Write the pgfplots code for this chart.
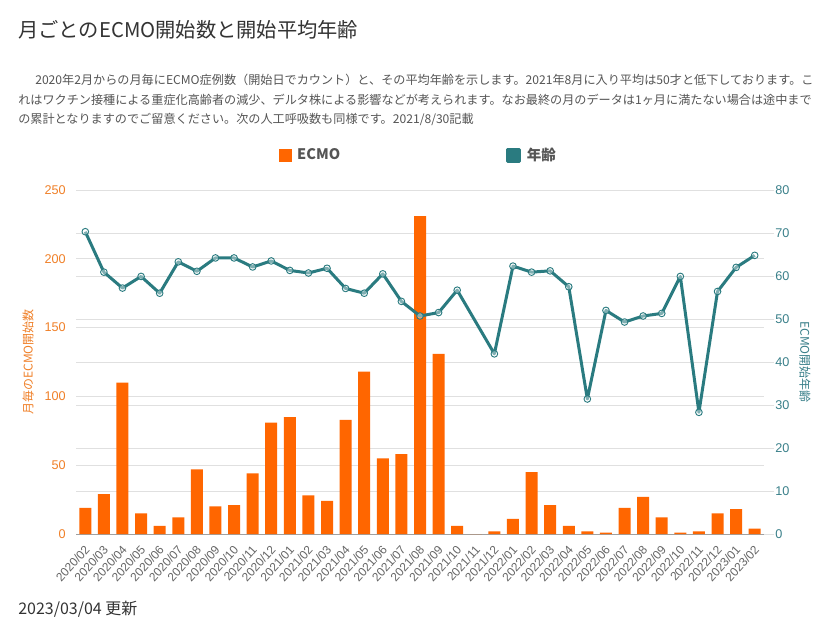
\documentclass[border=0pt]{standalone}
\usepackage{fontspec}
\setmainfont{Noto Sans CJK JP}
\newfontfamily\arial{Liberation Sans}
\usepackage{pgfplots}
\usepackage{pgfplotstable}
\pgfplotsset{compat=1.18}
\definecolor{barc}{RGB}{255,102,0}
\definecolor{lbl}{RGB}{240,128,40}
\definecolor{teal2}{RGB}{42,123,128}
\definecolor{tlbl}{RGB}{58,128,138}
\definecolor{gridc}{RGB}{224,224,224}
\definecolor{axc}{RGB}{160,160,160}
\definecolor{txt}{RGB}{85,85,85}
\definecolor{titc}{RGB}{51,51,51}
\definecolor{xlc}{RGB}{102,102,102}

\pgfplotstableread{
idx label ecmo age
0 2020/02 19 70.3
1 2020/03 29 60.9
2 2020/04 110 57.2
3 2020/05 15 59.9
4 2020/06 6 56.0
5 2020/07 12 63.3
6 2020/08 47 61.1
7 2020/09 20 64.2
8 2020/10 21 64.2
9 2020/11 44 62.1
10 2020/12 81 63.5
11 2021/01 85 61.3
12 2021/02 28 60.7
13 2021/03 24 61.8
14 2021/04 83 57.1
15 2021/05 118 56.0
16 2021/06 55 60.5
17 2021/07 58 54.1
18 2021/08 231 50.7
19 2021/09 131 51.5
20 2021/10 6 56.7
21 2021/11 0 nan
22 2021/12 2 41.9
23 2022/01 11 62.3
24 2022/02 45 60.9
25 2022/03 21 61.2
26 2022/04 6 57.5
27 2022/05 2 31.4
28 2022/06 1 52.0
29 2022/07 19 49.3
30 2022/08 27 50.7
31 2022/09 12 51.3
32 2022/10 1 59.9
33 2022/11 2 28.3
34 2022/12 15 56.4
35 2023/01 18 62.0
36 2023/02 4 64.8
}\data

\begin{document}
\begin{tikzpicture}
\path[fill=white] (0,0) rectangle (620.25pt,-471pt);

% bars, left axis, all grid lines
\begin{axis}[
  at={(57pt,-400.5pt)}, anchor=south west,
  scale only axis, width=516pt, height=258pt,
  xmin=-0.5, xmax=36.5, ymin=0, ymax=250,
  axis x line*=bottom, axis y line*=left,
  y axis line style={draw=none},
  x axis line style={draw=axc, line width=0.75pt},
  major tick length=0pt,
  xtick={0,...,36},
  xticklabels from table={\data}{label},
  xtick style={draw=none},
  ytick={0,50,...,250},
  extra y ticks={31.25,62.5,93.75,125,156.25,187.5,218.75},
  extra y tick labels={},
  ymajorgrids,
  major grid style={draw=gridc, line width=0.75pt},
  ytick style={draw=none},
  /pgf/number format/assume math mode=true,
  yticklabel style={font=\arial\fontsize{9.5}{11}\selectfont, text=lbl, anchor=east, inner sep=0pt, xshift=-7.5pt},
  xticklabel style={font=\arial\fontsize{9}{10}\selectfont, text=xlc, inner sep=0pt, xshift=1.5pt, yshift=-10pt, rotate=48, anchor=east},
  clip=false,
]
\addplot[ybar, bar width=0.645, fill=barc, draw=none] table[x=idx, y=ecmo] {\data};
\end{axis}

% line, right axis
\begin{axis}[
  at={(57pt,-400.5pt)}, anchor=south west,
  scale only axis, width=516pt, height=258pt,
  xmin=-0.5, xmax=36.5, ymin=0, ymax=80,
  axis x line=none, axis y line*=right,
  y axis line style={draw=none},
  ytick={0,10,...,80},
  ytick style={draw=gridc, line width=0.75pt},
  major tick length=7.5pt, tick align=outside,
  /pgf/number format/assume math mode=true,
  yticklabel style={font=\arial\fontsize{9.5}{11}\selectfont, text=tlbl, inner sep=0.8pt},
  clip=false,
  legend style={at={(0.2951,1.1017)}, anchor=west, draw=none, fill=none,
    inner sep=0pt, outer sep=0pt,
    font=\bfseries\fontsize{10.9}{12}\selectfont, text=txt,
    /tikz/every odd column/.append style={column sep=2.2pt},
    /tikz/every even column/.append style={column sep=122.5pt}},
  legend columns=2,
  legend cell align=left,
]
\addlegendimage{legend image code/.code={\fill[barc] (0pt,-4.5pt) rectangle (9pt,4.5pt);}}
\addlegendentry{ECMO}
\addplot[teal2, line width=2.25pt, line join=round,
  mark=*, mark size=2.5pt,
  mark options={fill=white, fill opacity=0.4, draw=teal2, line width=0.7pt},
  legend image code/.code={\fill[teal2] (0pt,-4.5pt) rectangle (9pt,4.5pt);}]
  table[x=idx, y=age] {\data};
\addlegendentry{年齢}
\end{axis}

\node[anchor=west, inner sep=0pt, text=titc, font=\fontsize{15.2}{18}\selectfont] at (13.5pt,-22.5pt) {月ごとのECMO開始数と開始平均年齢};

\node[anchor=west, inner sep=0pt, text=txt, font=\fontsize{9.1}{11}\selectfont] at (26.25pt,-60pt) {2020年2月からの月毎にECMO症例数（開始日でカウント）と、その平均年齢を示します。2021年8月に入り平均は50才と低下しております。こ};
\node[anchor=west, inner sep=0pt, text=txt, font=\fontsize{9.1}{11}\selectfont] at (13.5pt,-74.6pt) {れはワクチン接種による重症化高齢者の減少、デルタ株による影響などが考えられます。なお最終の月のデータは1ヶ月に満たない場合は途中まで};
\node[anchor=west, inner sep=0pt, text=txt, font=\fontsize{9.1}{11}\selectfont] at (13.5pt,-89.25pt) {の累計となりますのでご留意ください。次の人工呼吸数も同様です。2021/8/30記載};

\node[rotate=90, inner sep=0pt, text=lbl, font=\fontsize{9}{10}\selectfont] at (21pt,-271.5pt) {月毎のECMO開始数};
\node[rotate=-90, inner sep=0pt, text=tlbl, font=\fontsize{9}{10}\selectfont] at (603.75pt,-271.5pt) {ECMO開始年齢};

\node[anchor=west, inner sep=0pt, text=titc, font=\fontsize{12}{14}\selectfont] at (13.5pt,-456.75pt) {2023/03/04 更新};
\end{tikzpicture}
\end{document}
